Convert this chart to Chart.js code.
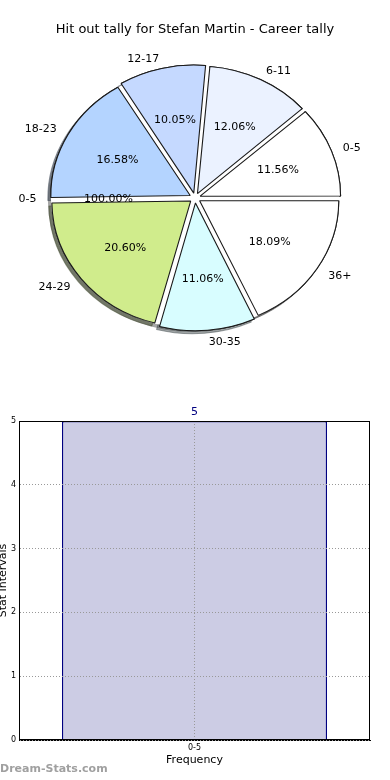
<!DOCTYPE html>
<html>
<head>
<meta charset="utf-8">
<script src="https://cdn.jsdelivr.net/npm/chart.js@4.4.0/dist/chart.umd.min.js"></script>
<style>
  body { margin: 0; background: #fff; }
  #wrap { position: relative; width: 390px; height: 780px; overflow: hidden; }
  .layer { position: absolute; left: 0; }
  #mark { position: absolute; left: 0; top: 762px; font: bold 11px "DejaVu Sans"; color: #a0a0a0; }
</style>
</head>
<body>
<div id="wrap">
  <canvas class="layer" id="pieBack" width="390" height="390" style="top:0"></canvas>
  <canvas class="layer" id="pieFront" width="390" height="390" style="top:0"></canvas>
  <canvas class="layer" id="bars" width="390" height="390" style="top:390px"></canvas>
  <div id="mark">Dream-Stats.com</div>
</div>
<script>
// pie data (matplotlib order, counter-clockwise from east)
const pieLabels = ['0-5', '6-11', '12-17', '18-23', '24-29', '30-35', '36+'];
const piePct = [11.56, 12.06, 10.05, 16.58, 20.60, 11.06, 18.09];
const pieColors = ['#ffffff', '#ebf2ff', '#c5d9ff', '#b4d4ff', '#d0ec8c', '#d8fdff', '#ffffff'];

// the full background pie
const backLabels = ['0-5'];
const backValues = [100];

// bar chart
const barLabels = ['0-5'];
const barValues = [5];
const yTicks = [0, 1, 2, 3, 4, 5];

Chart.defaults.font.family = 'DejaVu Sans';
Chart.defaults.color = '#000';
Chart.defaults.animation = false;

const SX = 1.1;  // pie is a bit wider than tall
const SHX = -3, SHY = 3;

function stretch(chart, cx, cy) {
  const ctx = chart.ctx;
  ctx.translate(cx, cy);
  ctx.scale(SX, 1);
  ctx.translate(-cx, -cy);
}

function hexShadow(hex) {
  const n = parseInt(hex.slice(1), 16);
  const r = (n >> 16) & 255, g = (n >> 8) & 255, b = n & 255;
  return 'rgba(' + Math.round(r * 0.3) + ',' + Math.round(g * 0.3) + ',' + Math.round(b * 0.3) + ',0.5)';
}

function textAt(ctx, arc, dist, txt, align) {
  const mid = (arc.startAngle + arc.endAngle) / 2;
  const r = (arc.options.offset || 0) / 4 + dist * arc.outerRadius;
  const dx = Math.cos(mid) * r * SX;
  const x = arc.x + dx, y = arc.y + Math.sin(mid) * r + 1;
  ctx.textAlign = align ? (dx < -0.5 ? 'right' : 'left') : 'center';
  ctx.fillText(txt, x, y);
}

// back chart: one white disc with a shadow
const backChart = new Chart(document.getElementById('pieBack'), {
  type: 'pie',
  data: {
    labels: backLabels,
    datasets: [{ data: backValues, backgroundColor: '#ffffff', borderWidth: 0 }]
  },
  options: {
    responsive: false,
    rotation: 90,
    radius: 131,
    layout: { padding: { top: 60, bottom: 54 } },
    plugins: { legend: { display: false }, tooltip: { enabled: false } }
  },
  plugins: [{
    id: 'backShadow',
    beforeDatasetsDraw(chart) {
      const arc = chart.getDatasetMeta(0).data[0];
      const ctx = chart.ctx;
      ctx.save();
      stretch(chart, arc.x, arc.y);
      ctx.shadowColor = 'rgba(77,77,77,0.5)';
      ctx.shadowOffsetX = SHX;
      ctx.shadowOffsetY = SHY;
      ctx.shadowBlur = 0;
    },
    afterDatasetsDraw(chart) {
      chart.ctx.restore();
    }
  }]
});

const frontChart = new Chart(document.getElementById('pieFront'), {
  type: 'pie',
  data: {
    labels: pieLabels.slice().reverse(),
    datasets: [{
      data: piePct.slice().reverse(),
      backgroundColor: pieColors.slice().reverse(),
      borderColor: '#1a1a1a',
      borderWidth: 1,
      offset: 20
    }]
  },
  options: {
    responsive: false,
    rotation: 90,
    radius: 126,
    clip: false,
    layout: { padding: { bottom: 54 } },
    plugins: {
      legend: { display: false },
      tooltip: { enabled: false },
      title: {
        display: true,
        text: 'Hit out tally for Stefan Martin - Career tally',
        font: { size: 13, weight: 'normal' },
        color: '#000',
        padding: { top: 22, bottom: 22.4 }
      }
    }
  },
  plugins: [{
    id: 'frontPie',
    beforeDatasetsDraw(chart) {
      const ctx = chart.ctx;
      const arcs = chart.getDatasetMeta(0).data;
      const disc = backChart.getDatasetMeta(0).data[0];
      const cx = arcs[0].x, cy = arcs[0].y;
      ctx.save();
      stretch(chart, cx, cy);
      // slice shadows, only where the back disc does not cover them
      ctx.save();
      ctx.beginPath();
      ctx.rect(-1000, -1000, 3000, 3000);
      ctx.arc(disc.x, disc.y, disc.outerRadius, 0, Math.PI * 2, true);
      ctx.clip('evenodd');
      ctx.shadowOffsetX = SHX;
      ctx.shadowOffsetY = SHY;
      ctx.shadowBlur = 0;
      arcs.forEach(a => {
        ctx.shadowColor = hexShadow(a.options.backgroundColor);
        a.draw(ctx);
      });
      ctx.restore();
    },
    afterDatasetsDraw(chart) {
      chart.ctx.restore();
    },
    afterDraw(chart) {
      const ctx = chart.ctx;
      const meta = chart.getDatasetMeta(0);
      const vals = chart.data.datasets[0].data;
      const total = vals.reduce((s, v) => s + v, 0);
      ctx.save();
      ctx.font = '11px "DejaVu Sans"';
      ctx.fillStyle = '#000';
      ctx.textBaseline = 'middle';
      meta.data.forEach((a, i) => {
        textAt(ctx, a, 1.1, chart.data.labels[i], true);
        textAt(ctx, a, 0.6, (vals[i] / total * 100).toFixed(2) + '%', false);
      });
      const bm = backChart.getDatasetMeta(0);
      const bt = backValues.reduce((s, v) => s + v, 0);
      bm.data.forEach((a, i) => {
        textAt(ctx, a, 1.1, backLabels[i], true);
        textAt(ctx, a, 0.6, (backValues[i] / bt * 100).toFixed(2) + '%', false);
      });
      ctx.restore();
    }
  }]
});

new Chart(document.getElementById('bars'), {
  type: 'bar',
  data: {
    labels: barLabels,
    datasets: [{
      data: barValues,
      backgroundColor: 'rgb(204,204,228)',
      borderColor: '#000080',
      borderWidth: 1.4,
      borderSkipped: 'start',
      barPercentage: 0.755,
      categoryPercentage: 1
    }]
  },
  options: {
    responsive: false,
    layout: { padding: { top: 31, right: 20, left: 0, bottom: 0 } },
    plugins: { legend: { display: false }, tooltip: { enabled: false } },
    scales: {
      x: {
        grid: { offset: false, color: '#999999', tickLength: 0 },
        border: { display: true, color: '#000', width: 1, dash: [1, 2] },
        ticks: { font: { size: 8 }, padding: 3, color: '#000' },
        title: { display: true, text: 'Frequency', font: { size: 11 }, padding: { top: 0, bottom: 13.4 } },
        afterFit(s) { s.height = 40; }
      },
      y: {
        min: 0,
        max: 5,
        afterBuildTicks(s) { s.ticks = yTicks.map(v => ({ value: v })); },
        grid: { color: '#999999', tickLength: 0 },
        border: { display: true, color: '#000', width: 1, dash: [1, 2] },
        ticks: { font: { size: 8 }, padding: 3, color: '#000' },
        title: { display: true, text: 'Stat Intervals', font: { size: 11 }, padding: { top: -3, bottom: 0 } },
        afterFit(s) { s.width = 19; }
      }
    }
  },
  plugins: [{
    id: 'frameAndValues',
    afterDatasetsDraw(chart) {
      // matplotlib puts the grid above the bars
      chart.scales.x.drawGrid(chart.chartArea);
      chart.scales.y.drawGrid(chart.chartArea);
    },
    afterDraw(chart) {
      const ctx = chart.ctx;
      const a = chart.chartArea;
      ctx.save();
      ctx.strokeStyle = '#000';
      ctx.lineWidth = 1;
      ctx.strokeRect(Math.round(a.left) + 0.5, Math.round(a.top) + 0.5, Math.round(a.right - a.left) - 1, Math.round(a.bottom - a.top) - 1);
      ctx.fillStyle = '#000080';
      ctx.font = '11px "DejaVu Sans"';
      ctx.textAlign = 'center';
      ctx.textBaseline = 'middle';
      chart.getDatasetMeta(0).data.forEach((b, i) => {
        ctx.fillText(String(barValues[i]), b.x, b.y - 9);
      });
      ctx.restore();
    }
  }]
});
</script>
</body>
</html>
